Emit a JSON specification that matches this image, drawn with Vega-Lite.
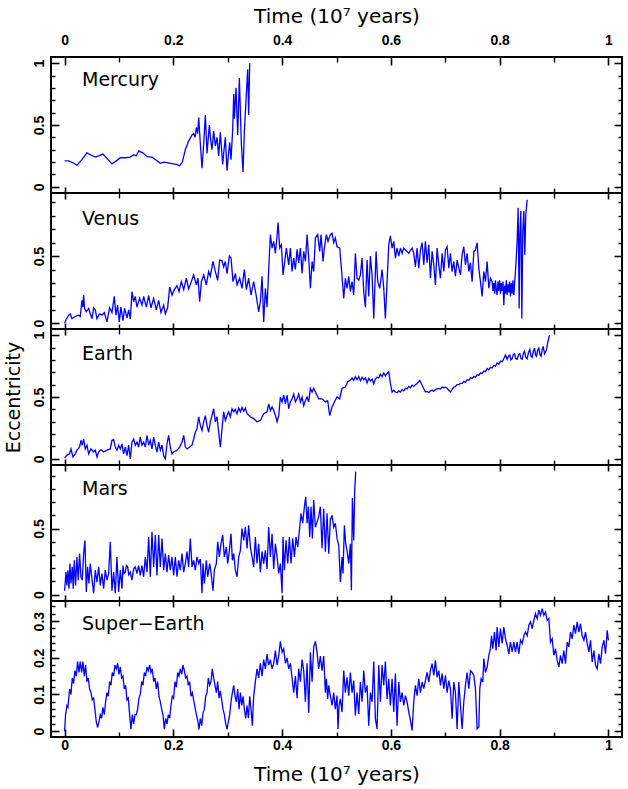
{
"$schema": "https://vega.github.io/schema/vega-lite/v6.json",
"background": "white",
"padding": {"left": 3, "top": 5, "right": 2, "bottom": 1},
"spacing": 0,
"bounds": "flush",
"config": {
 "view": {"stroke": "black", "strokeWidth": 2},
 "concat": {"spacing": 0},
 "axis": {"grid": false, "domain": false, "tickColor": "black", "labelColor": "black", "titleColor": "black",
  "labelFont": "Liberation Sans", "labelFontWeight": "bold", "labelFontSize": 14,
  "titleFont": "DejaVu Sans", "titleFontWeight": "normal", "titleFontSize": 19}
},
"datasets": {
"mercury": [
{"t":0,"e":0.21},{"t":0.0074,"e":0.21},{"t":0.0153,"e":0.195},{"t":0.0227,"e":0.175},{"t":0.0319,"e":0.22},{"t":0.0411,"e":0.275},{"t":0.0491,"e":0.255},{"t":0.0564,"e":0.24},{"t":0.0626,"e":0.25},{"t":0.0705,"e":0.265},{"t":0.0779,"e":0.23},{"t":0.0871,"e":0.185},{"t":0.0951,"e":0.21},{"t":0.1024,"e":0.235},{"t":0.1116,"e":0.235},{"t":0.1208,"e":0.24},{"t":0.127,"e":0.26},{"t":0.1319,"e":0.25},{"t":0.1362,"e":0.29},{"t":0.1435,"e":0.275},{"t":0.1515,"e":0.245},{"t":0.1607,"e":0.24},{"t":0.1687,"e":0.215},{"t":0.176,"e":0.19},{"t":0.1822,"e":0.2},{"t":0.1883,"e":0.195},{"t":0.1944,"e":0.19},{"t":0.2005,"e":0.185},{"t":0.2067,"e":0.18},{"t":0.2116,"e":0.17},{"t":0.2165,"e":0.2},{"t":0.222,"e":0.3},{"t":0.2281,"e":0.37},{"t":0.2343,"e":0.42},{"t":0.2373,"e":0.43},{"t":0.2398,"e":0.4},{"t":0.2423,"e":0.48},{"t":0.2447,"e":0.43},{"t":0.2466,"e":0.56},{"t":0.2496,"e":0.35},{"t":0.2527,"e":0.15},{"t":0.2558,"e":0.35},{"t":0.2588,"e":0.58},{"t":0.2619,"e":0.27},{"t":0.2643,"e":0.4},{"t":0.2662,"e":0.5},{"t":0.2686,"e":0.38},{"t":0.271,"e":0.3},{"t":0.2741,"e":0.45},{"t":0.2772,"e":0.33},{"t":0.2803,"e":0.4},{"t":0.2833,"e":0.25},{"t":0.2864,"e":0.44},{"t":0.2907,"e":0.18},{"t":0.2932,"e":0.3},{"t":0.2956,"e":0.4},{"t":0.2987,"e":0.13},{"t":0.3011,"e":0.25},{"t":0.3036,"e":0.36},{"t":0.306,"e":0.22},{"t":0.3091,"e":0.46},{"t":0.311,"e":0.75},{"t":0.3122,"e":0.55},{"t":0.3152,"e":0.8},{"t":0.3183,"e":0.42},{"t":0.3214,"e":0.88},{"t":0.325,"e":0.35},{"t":0.3281,"e":0.12},{"t":0.3306,"e":0.45},{"t":0.3336,"e":0.7},{"t":0.3367,"e":0.95},{"t":0.3385,"e":0.58},{"t":0.3404,"e":1.0}
],
"venus": [
{"t":0,"e":0},{"t":0.0031,"e":0.03},{"t":0.0074,"e":0.06},{"t":0.0104,"e":0.07},{"t":0.0135,"e":0.035},{"t":0.0196,"e":0.05},{"t":0.0258,"e":0.06},{"t":0.0288,"e":0.05},{"t":0.0319,"e":0.17},{"t":0.0337,"e":0.12},{"t":0.035,"e":0.21},{"t":0.0368,"e":0.11},{"t":0.0399,"e":0.085},{"t":0.0442,"e":0.11},{"t":0.0472,"e":0.07},{"t":0.0503,"e":0.035},{"t":0.0534,"e":0.115},{"t":0.0564,"e":0.1},{"t":0.0595,"e":0.035},{"t":0.0644,"e":0.07},{"t":0.0687,"e":0.06},{"t":0.073,"e":0.08},{"t":0.0779,"e":0.01},{"t":0.0828,"e":0.115},{"t":0.0871,"e":0.08},{"t":0.0914,"e":0.2},{"t":0.0944,"e":0.06},{"t":0.0975,"e":0.135},{"t":0.1006,"e":0.01},{"t":0.1036,"e":0.12},{"t":0.1073,"e":0.02},{"t":0.1104,"e":0.11},{"t":0.1147,"e":0.04},{"t":0.1178,"e":0.1},{"t":0.1208,"e":0.03},{"t":0.1239,"e":0.235},{"t":0.127,"e":0.16},{"t":0.13,"e":0.2},{"t":0.1331,"e":0.12},{"t":0.138,"e":0.185},{"t":0.1423,"e":0.135},{"t":0.1454,"e":0.2},{"t":0.1503,"e":0.12},{"t":0.1546,"e":0.205},{"t":0.1588,"e":0.115},{"t":0.1638,"e":0.185},{"t":0.1687,"e":0.1},{"t":0.173,"e":0.17},{"t":0.1772,"e":0.08},{"t":0.1822,"e":0.135},{"t":0.1852,"e":0.07},{"t":0.1895,"e":0.115},{"t":0.1932,"e":0.27},{"t":0.1975,"e":0.21},{"t":0.2018,"e":0.25},{"t":0.2067,"e":0.28},{"t":0.2104,"e":0.235},{"t":0.2147,"e":0.31},{"t":0.219,"e":0.25},{"t":0.2239,"e":0.335},{"t":0.2281,"e":0.255},{"t":0.2331,"e":0.31},{"t":0.2373,"e":0.36},{"t":0.2423,"e":0.285},{"t":0.2453,"e":0.335},{"t":0.2484,"e":0.16},{"t":0.2515,"e":0.31},{"t":0.2558,"e":0.36},{"t":0.2607,"e":0.285},{"t":0.2649,"e":0.385},{"t":0.268,"e":0.35},{"t":0.2729,"e":0.46},{"t":0.2772,"e":0.385},{"t":0.2815,"e":0.32},{"t":0.2852,"e":0.47},{"t":0.2895,"e":0.465},{"t":0.2925,"e":0.42},{"t":0.2956,"e":0.46},{"t":0.2987,"e":0.37},{"t":0.303,"e":0.5},{"t":0.306,"e":0.485},{"t":0.3097,"e":0.31},{"t":0.314,"e":0.37},{"t":0.3171,"e":0.285},{"t":0.322,"e":0.335},{"t":0.3263,"e":0.26},{"t":0.3306,"e":0.4},{"t":0.3342,"e":0.25},{"t":0.3385,"e":0.335},{"t":0.3428,"e":0.21},{"t":0.3477,"e":0.31},{"t":0.3526,"e":0.2},{"t":0.3569,"e":0.085},{"t":0.36,"e":0.16},{"t":0.3631,"e":0.35},{"t":0.3661,"e":0.01},{"t":0.3692,"e":0.26},{"t":0.3723,"e":0.12},{"t":0.3753,"e":0.4},{"t":0.3784,"e":0.66},{"t":0.3815,"e":0.56},{"t":0.3845,"e":0.61},{"t":0.3876,"e":0.52},{"t":0.3907,"e":0.65},{"t":0.3925,"e":0.75},{"t":0.3956,"e":0.56},{"t":0.3986,"e":0.585},{"t":0.4017,"e":0.36},{"t":0.4048,"e":0.46},{"t":0.4078,"e":0.56},{"t":0.4121,"e":0.435},{"t":0.4152,"e":0.56},{"t":0.4183,"e":0.385},{"t":0.4213,"e":0.485},{"t":0.4244,"e":0.4},{"t":0.4275,"e":0.55},{"t":0.4305,"e":0.45},{"t":0.4336,"e":0.56},{"t":0.4367,"e":0.37},{"t":0.4397,"e":0.535},{"t":0.4428,"e":0.46},{"t":0.4459,"e":0.66},{"t":0.4489,"e":0.485},{"t":0.452,"e":0.26},{"t":0.4551,"e":0.46},{"t":0.4581,"e":0.385},{"t":0.4612,"e":0.635},
{"t":0.4654,"e":0.66},{"t":0.4691,"e":0.535},{"t":0.4716,"e":0.66},{"t":0.4752,"e":0.46},{"t":0.4777,"e":0.56},{"t":0.4814,"e":0.66},{"t":0.4844,"e":0.61},{"t":0.4887,"e":0.66},{"t":0.4918,"e":0.67},{"t":0.4949,"e":0.6},{"t":0.4979,"e":0.635},{"t":0.501,"e":0.57},{"t":0.5059,"e":0.56},{"t":0.509,"e":0.41},{"t":0.5133,"e":0.185},{"t":0.5163,"e":0.335},{"t":0.5194,"e":0.26},{"t":0.5225,"e":0.35},{"t":0.5255,"e":0.235},{"t":0.5286,"e":0.31},{"t":0.5317,"e":0.21},{"t":0.5347,"e":0.52},{"t":0.5378,"e":0.335},{"t":0.5409,"e":0.32},{"t":0.5439,"e":0.36},{"t":0.547,"e":0.485},{"t":0.5501,"e":0.235},{"t":0.5531,"e":0.12},{"t":0.5562,"e":0.47},{"t":0.5593,"e":0.2},{"t":0.5623,"e":0.5},{"t":0.5654,"e":0.36},{"t":0.5685,"e":0.035},{"t":0.5728,"e":0.535},{"t":0.5758,"e":0.31},{"t":0.5795,"e":0.26},{"t":0.5838,"e":0.4},{"t":0.5869,"e":0.26},{"t":0.5899,"e":0.035},{"t":0.593,"e":0.31},{"t":0.5961,"e":0.585},{"t":0.5991,"e":0.65},{"t":0.6022,"e":0.56},{"t":0.6053,"e":0.61},{"t":0.6083,"e":0.485},{"t":0.6114,"e":0.56},{"t":0.6145,"e":0.5},{"t":0.6175,"e":0.56},{"t":0.6206,"e":0.52},{"t":0.6237,"e":0.56},{"t":0.6267,"e":0.545},{"t":0.6298,"e":0.535},{"t":0.6329,"e":0.52},{"t":0.6359,"e":0.545},{"t":0.639,"e":0.56},{"t":0.6421,"e":0.52},{"t":0.6451,"e":0.42},{"t":0.6482,"e":0.56},{"t":0.6513,"e":0.41},{"t":0.6543,"e":0.545},{"t":0.6574,"e":0.6},{"t":0.6605,"e":0.435},{"t":0.6635,"e":0.61},{"t":0.6666,"e":0.45},{"t":0.6697,"e":0.585},{"t":0.6727,"e":0.335},{"t":0.6758,"e":0.535},{"t":0.6789,"e":0.435},{"t":0.6819,"e":0.285},{"t":0.685,"e":0.56},{"t":0.6881,"e":0.435},{"t":0.6911,"e":0.335},{"t":0.6942,"e":0.52},{"t":0.6973,"e":0.385},{"t":0.7003,"e":0.545},{"t":0.7034,"e":0.57},{"t":0.7065,"e":0.41},{"t":0.7095,"e":0.52},{"t":0.7126,"e":0.385},{"t":0.7157,"e":0.46},{"t":0.7187,"e":0.35},{"t":0.7218,"e":0.47},{"t":0.7249,"e":0.41},{"t":0.7279,"e":0.36},{"t":0.731,"e":0.51},{"t":0.7341,"e":0.57},{"t":0.7371,"e":0.435},{"t":0.7402,"e":0.52},{"t":0.7433,"e":0.385},{"t":0.7463,"e":0.45},{"t":0.7494,"e":0.31},{"t":0.7525,"e":0.535},{"t":0.7555,"e":0.545},{"t":0.7586,"e":0.6},{"t":0.7617,"e":0.41},{"t":0.7647,"e":0.31},{"t":0.7678,"e":0.2},{"t":0.7709,"e":0.385},{"t":0.7739,"e":0.31},{"t":0.777,"e":0.46},{"t":0.7801,"e":0.26},{"t":0.7831,"e":0.335},{"t":0.7862,"e":0.31},{"t":0.7877,"e":0.24},{"t":0.7893,"e":0.3},{"t":0.7908,"e":0.22},{"t":0.7923,"e":0.32},{"t":0.7939,"e":0.25},{"t":0.7954,"e":0.21},{"t":0.797,"e":0.31},{"t":0.7985,"e":0.24},{"t":0.8,"e":0.32},{"t":0.8015,"e":0.22},{"t":0.8031,"e":0.3},{"t":0.8046,"e":0.24},{"t":0.8061,"e":0.31},{"t":0.8077,"e":0.135},{"t":0.8092,"e":0.28},{"t":0.8107,"e":0.22},{"t":0.8123,"e":0.32},{"t":0.8138,"e":0.21},{"t":0.8153,"e":0.29},{"t":0.8169,"e":0.23},{"t":0.8184,"e":0.31},{"t":0.8199,"e":0.2},{"t":0.8215,"e":0.3},{"t":0.823,"e":0.22},{"t":0.8245,"e":0.32},{"t":0.8261,"e":0.21},{"t":0.8276,"e":0.3},{"t":0.8291,"e":0.385},{"t":0.8322,"e":0.61},{"t":0.834,"e":0.86},{"t":0.8359,"e":0.11},{"t":0.8371,"e":0.66},{"t":0.839,"e":0.835},{"t":0.8408,"e":0.035},{"t":0.8426,"e":0.685},{"t":0.8445,"e":0.835},{"t":0.8463,"e":0.51},{"t":0.8481,"e":0.81},{"t":0.8506,"e":0.92}
],
"earth": [
{"t":0,"e":0.005},{"t":0.0043,"e":0.03},{"t":0.0092,"e":0.04},{"t":0.0117,"e":0.08},{"t":0.0153,"e":0.015},{"t":0.0196,"e":0.04},{"t":0.0227,"e":0.07},{"t":0.0276,"e":0.095},{"t":0.0301,"e":0.15},{"t":0.0325,"e":0.11},{"t":0.035,"e":0.16},{"t":0.038,"e":0.08},{"t":0.0411,"e":0.11},{"t":0.0442,"e":0.04},{"t":0.0485,"e":0.08},{"t":0.0534,"e":0.055},{"t":0.0564,"e":0.07},{"t":0.0595,"e":0.015},{"t":0.0626,"e":0.055},{"t":0.0668,"e":0.075},{"t":0.0718,"e":0.055},{"t":0.0779,"e":0.07},{"t":0.084,"e":0.08},{"t":0.0871,"e":0.15},{"t":0.0902,"e":0.155},{"t":0.0932,"e":0.095},{"t":0.0963,"e":0.07},{"t":0.0994,"e":0.11},{"t":0.1024,"e":0.08},{"t":0.1055,"e":0.12},{"t":0.1086,"e":0.04},{"t":0.1116,"e":0.095},{"t":0.1147,"e":0.025},{"t":0.1178,"e":0.11},{"t":0.1208,"e":0.0},{"t":0.1239,"e":0.135},{"t":0.127,"e":0.16},{"t":0.13,"e":0.11},{"t":0.1331,"e":0.135},{"t":0.1362,"e":0.095},{"t":0.1392,"e":0.175},{"t":0.1423,"e":0.11},{"t":0.1454,"e":0.135},{"t":0.1484,"e":0.095},{"t":0.1515,"e":0.19},{"t":0.1546,"e":0.11},{"t":0.1576,"e":0.15},{"t":0.1607,"e":0.08},{"t":0.1638,"e":0.175},{"t":0.1668,"e":0.11},{"t":0.1699,"e":0.055},{"t":0.173,"e":0.135},{"t":0.176,"e":0.07},{"t":0.1791,"e":0.11},{"t":0.1822,"e":0.025},{"t":0.1852,"e":0.0},{"t":0.1883,"e":0.12},{"t":0.1913,"e":0.19},{"t":0.1944,"e":0.095},{"t":0.1975,"e":0.04},{"t":0.2005,"e":0.055},{"t":0.2067,"e":0.07},{"t":0.2116,"e":0.095},{"t":0.2159,"e":0.135},{"t":0.219,"e":0.19},{"t":0.222,"e":0.095},{"t":0.2251,"e":0.08},{"t":0.23,"e":0.095},{"t":0.2343,"e":0.11},{"t":0.2373,"e":0.16},{"t":0.2404,"e":0.215},{"t":0.2435,"e":0.245},{"t":0.2466,"e":0.34},{"t":0.2496,"e":0.27},{"t":0.2527,"e":0.23},{"t":0.2558,"e":0.3},{"t":0.2588,"e":0.35},{"t":0.2619,"e":0.27},{"t":0.2649,"e":0.215},{"t":0.268,"e":0.3},{"t":0.271,"e":0.35},{"t":0.2741,"e":0.405},{"t":0.2772,"e":0.3},{"t":0.2803,"e":0.34},{"t":0.2833,"e":0.215},{"t":0.2864,"e":0.095},{"t":0.2895,"e":0.245},{"t":0.2925,"e":0.38},{"t":0.2956,"e":0.31},{"t":0.2987,"e":0.35},{"t":0.3017,"e":0.38},{"t":0.3048,"e":0.34},{"t":0.3079,"e":0.405},{"t":0.311,"e":0.38},{"t":0.314,"e":0.4},{"t":0.3171,"e":0.365},{"t":0.3202,"e":0.41},{"t":0.3233,"e":0.38},{"t":0.3263,"e":0.415},{"t":0.3294,"e":0.385},{"t":0.3324,"e":0.41},{"t":0.3355,"e":0.365},{"t":0.3416,"e":0.34},{"t":0.3477,"e":0.325},{"t":0.3539,"e":0.3},{"t":0.36,"e":0.31},{"t":0.3661,"e":0.365},{"t":0.3723,"e":0.38},{"t":0.3753,"e":0.445},{"t":0.3784,"e":0.39},{"t":0.3815,"e":0.42},{"t":0.3845,"e":0.39},{"t":0.3876,"e":0.35},{"t":0.3907,"e":0.3},{"t":0.3937,"e":0.35},{"t":0.3968,"e":0.5},{"t":0.3999,"e":0.46},{"t":0.4029,"e":0.515},{"t":0.406,"e":0.445},{"t":0.4091,"e":0.515},{"t":0.4121,"e":0.405},{"t":0.4152,"e":0.46},{"t":0.4183,"e":0.485},{"t":0.4213,"e":0.525},{"t":0.4244,"e":0.46},{"t":0.4275,"e":0.485},{"t":0.4305,"e":0.525},{"t":0.4336,"e":0.46},{"t":0.4367,"e":0.5},{"t":0.4397,"e":0.43},{"t":0.4428,"e":0.47},{"t":0.4459,"e":0.5},{"t":0.4489,"e":0.46},{"t":0.452,"e":0.57},{"t":0.4551,"e":0.54},{"t":0.4581,"e":0.57},{"t":0.463,"e":0.525},
{"t":0.4673,"e":0.485},{"t":0.4734,"e":0.485},{"t":0.4795,"e":0.46},{"t":0.4838,"e":0.47},{"t":0.4875,"e":0.35},{"t":0.4918,"e":0.42},{"t":0.4961,"e":0.46},{"t":0.501,"e":0.5},{"t":0.5059,"e":0.485},{"t":0.5102,"e":0.57},{"t":0.5163,"e":0.58},{"t":0.5206,"e":0.625},{"t":0.5255,"e":0.635},{"t":0.5286,"e":0.655},{"t":0.5317,"e":0.635},{"t":0.5347,"e":0.665},{"t":0.5378,"e":0.64},{"t":0.5409,"e":0.665},{"t":0.5439,"e":0.63},{"t":0.547,"e":0.66},{"t":0.5501,"e":0.64},{"t":0.5531,"e":0.655},{"t":0.5562,"e":0.615},{"t":0.5593,"e":0.65},{"t":0.5623,"e":0.63},{"t":0.5654,"e":0.645},{"t":0.5685,"e":0.605},{"t":0.5715,"e":0.645},{"t":0.5746,"e":0.66},{"t":0.5777,"e":0.655},{"t":0.5807,"e":0.685},{"t":0.5838,"e":0.665},{"t":0.5869,"e":0.695},{"t":0.59,"e":0.67},{"t":0.593,"e":0.69},{"t":0.5961,"e":0.705},{"t":0.5991,"e":0.61},{"t":0.6022,"e":0.54},{"t":0.6053,"e":0.555},{"t":0.6083,"e":0.54},{"t":0.6114,"e":0.535},{"t":0.6145,"e":0.55},{"t":0.6175,"e":0.54},{"t":0.6206,"e":0.56},{"t":0.6237,"e":0.55},{"t":0.6267,"e":0.57},{"t":0.6298,"e":0.565},{"t":0.6329,"e":0.585},{"t":0.6359,"e":0.575},{"t":0.639,"e":0.595},{"t":0.6421,"e":0.585},{"t":0.6451,"e":0.6},{"t":0.6482,"e":0.61},{"t":0.6531,"e":0.635},{"t":0.6574,"e":0.595},{"t":0.6635,"e":0.54},{"t":0.6666,"e":0.545},{"t":0.6697,"e":0.535},{"t":0.6727,"e":0.55},{"t":0.6758,"e":0.555},{"t":0.6789,"e":0.545},{"t":0.6819,"e":0.56},{"t":0.685,"e":0.565},{"t":0.6881,"e":0.57},{"t":0.6911,"e":0.565},{"t":0.6942,"e":0.58},{"t":0.6973,"e":0.575},{"t":0.7003,"e":0.58},{"t":0.7034,"e":0.57},{"t":0.7065,"e":0.555},{"t":0.7095,"e":0.54},{"t":0.7126,"e":0.56},{"t":0.7157,"e":0.58},{"t":0.7187,"e":0.585},{"t":0.7218,"e":0.6},{"t":0.7249,"e":0.6},{"t":0.7279,"e":0.61},{"t":0.731,"e":0.61},{"t":0.7341,"e":0.625},{"t":0.7371,"e":0.62},{"t":0.7402,"e":0.64},{"t":0.7433,"e":0.635},{"t":0.7463,"e":0.655},{"t":0.7494,"e":0.65},{"t":0.7525,"e":0.665},{"t":0.7555,"e":0.66},{"t":0.7586,"e":0.68},{"t":0.7617,"e":0.675},{"t":0.7647,"e":0.695},{"t":0.7678,"e":0.69},{"t":0.7709,"e":0.71},{"t":0.7739,"e":0.705},{"t":0.777,"e":0.73},{"t":0.78,"e":0.72},{"t":0.7831,"e":0.74},{"t":0.7862,"e":0.735},{"t":0.7893,"e":0.755},{"t":0.7923,"e":0.75},{"t":0.7954,"e":0.775},{"t":0.7985,"e":0.765},{"t":0.8015,"e":0.79},{"t":0.8046,"e":0.785},{"t":0.8077,"e":0.81},{"t":0.8107,"e":0.84},{"t":0.8138,"e":0.805},{"t":0.8162,"e":0.83},{"t":0.8187,"e":0.84},{"t":0.8208,"e":0.8},{"t":0.823,"e":0.81},{"t":0.8252,"e":0.845},{"t":0.8273,"e":0.85},{"t":0.8297,"e":0.81},{"t":0.8322,"e":0.805},{"t":0.8347,"e":0.845},{"t":0.8371,"e":0.85},{"t":0.8393,"e":0.81},{"t":0.8414,"e":0.805},{"t":0.8435,"e":0.85},{"t":0.8457,"e":0.87},{"t":0.848,"e":0.82},{"t":0.8506,"e":0.81},{"t":0.853,"e":0.86},{"t":0.8555,"e":0.885},{"t":0.8577,"e":0.83},{"t":0.8598,"e":0.82},{"t":0.862,"e":0.87},{"t":0.8641,"e":0.895},{"t":0.866,"e":0.84},{"t":0.8678,"e":0.83},{"t":0.87,"e":0.88},{"t":0.8721,"e":0.895},{"t":0.8742,"e":0.84},{"t":0.8763,"e":0.83},{"t":0.878,"e":0.88},{"t":0.88,"e":0.91},{"t":0.8825,"e":0.85},{"t":0.8861,"e":0.88},{"t":0.8886,"e":0.945},{"t":0.8917,"e":1.0}
],
"mars": [
{"t":0,"e":0.03},{"t":0.0025,"e":0.17},{"t":0.0043,"e":0.07},{"t":0.0061,"e":0.185},{"t":0.008,"e":0.045},{"t":0.0098,"e":0.235},{"t":0.0117,"e":0.085},{"t":0.0141,"e":0.21},{"t":0.0159,"e":0.045},{"t":0.0178,"e":0.26},{"t":0.0202,"e":0.07},{"t":0.0227,"e":0.285},{"t":0.0251,"e":0.11},{"t":0.0276,"e":0.31},{"t":0.0301,"e":0.135},{"t":0.0325,"e":0.11},{"t":0.035,"e":0.31},{"t":0.0374,"e":0.41},{"t":0.0399,"e":0.02},{"t":0.0423,"e":0.21},{"t":0.0448,"e":0.085},{"t":0.0472,"e":0.235},{"t":0.0503,"e":0.12},{"t":0.0534,"e":0.01},{"t":0.0564,"e":0.185},{"t":0.0595,"e":0.095},{"t":0.0626,"e":0.21},{"t":0.0656,"e":0.07},{"t":0.0687,"e":0.16},{"t":0.0718,"e":0.045},{"t":0.0748,"e":0.185},{"t":0.0779,"e":0.11},{"t":0.081,"e":0.16},{"t":0.084,"e":0.4},{"t":0.0871,"e":0.03},{"t":0.0902,"e":0.17},{"t":0.0932,"e":0.01},{"t":0.0963,"e":0.285},{"t":0.0994,"e":0.02},{"t":0.1024,"e":0.185},{"t":0.1055,"e":0.045},{"t":0.1073,"e":0.22},{"t":0.1094,"e":0.16},{"t":0.1116,"e":0.17},{"t":0.1137,"e":0.22},{"t":0.1159,"e":0.21},{"t":0.118,"e":0.15},{"t":0.1208,"e":0.17},{"t":0.1239,"e":0.11},{"t":0.127,"e":0.195},{"t":0.13,"e":0.21},{"t":0.1331,"e":0.16},{"t":0.1362,"e":0.22},{"t":0.1392,"e":0.145},{"t":0.1423,"e":0.22},{"t":0.1454,"e":0.135},{"t":0.1484,"e":0.285},{"t":0.1515,"e":0.17},{"t":0.1546,"e":0.435},{"t":0.1576,"e":0.135},{"t":0.1607,"e":0.475},{"t":0.1638,"e":0.21},{"t":0.1668,"e":0.45},{"t":0.1699,"e":0.145},{"t":0.173,"e":0.45},{"t":0.176,"e":0.21},{"t":0.1791,"e":0.425},{"t":0.1822,"e":0.185},{"t":0.1852,"e":0.31},{"t":0.1883,"e":0.17},{"t":0.1913,"e":0.3},{"t":0.1944,"e":0.185},{"t":0.1975,"e":0.285},{"t":0.2005,"e":0.145},{"t":0.2036,"e":0.285},{"t":0.2067,"e":0.135},{"t":0.2097,"e":0.26},{"t":0.2128,"e":0.185},{"t":0.2159,"e":0.31},{"t":0.219,"e":0.17},{"t":0.222,"e":0.235},{"t":0.2251,"e":0.325},{"t":0.2281,"e":0.21},{"t":0.2312,"e":0.425},{"t":0.2343,"e":0.21},{"t":0.2373,"e":0.26},{"t":0.2404,"e":0.185},{"t":0.2435,"e":0.285},{"t":0.2466,"e":0.235},{"t":0.2496,"e":0.27},{"t":0.2527,"e":0.01},{"t":0.2545,"e":0.235},{"t":0.257,"e":0.085},{"t":0.2607,"e":0.26},{"t":0.2631,"e":0.135},{"t":0.2668,"e":0.235},{"t":0.2692,"e":0.17},{"t":0.2729,"e":0.03},{"t":0.2754,"e":0.185},{"t":0.2791,"e":0.235},{"t":0.2815,"e":0.4},{"t":0.2846,"e":0.285},{"t":0.2876,"e":0.385},{"t":0.2907,"e":0.45},{"t":0.2938,"e":0.285},{"t":0.2974,"e":0.36},{"t":0.2999,"e":0.235},{"t":0.303,"e":0.335},{"t":0.306,"e":0.46},{"t":0.3085,"e":0.26},{"t":0.311,"e":0.31},{"t":0.314,"e":0.185},{"t":0.3171,"e":0.135},{"t":0.3202,"e":0.285},{"t":0.3233,"e":0.335},{"t":0.3263,"e":0.5},{"t":0.3294,"e":0.41},{"t":0.3324,"e":0.51},{"t":0.3355,"e":0.35},{"t":0.3385,"e":0.525},{"t":0.3416,"e":0.36},{"t":0.3447,"e":0.285},{"t":0.3477,"e":0.21},{"t":0.3508,"e":0.435},{"t":0.3539,"e":0.235},{"t":0.3569,"e":0.385},{"t":0.36,"e":0.17},{"t":0.3631,"e":0.325},{"t":0.3661,"e":0.235},{"t":0.3692,"e":0.335},{"t":0.3723,"e":0.195},{"t":0.3753,"e":0.51},{"t":0.3784,"e":0.285},{"t":0.3815,"e":0.46},{"t":0.3845,"e":0.195},{"t":0.3876,"e":0.385},{"t":0.3907,"e":0.285},{"t":0.3937,"e":0.16},{"t":0.3968,"e":0.235},{"t":0.3999,"e":0.01},{"t":0.4017,"e":0.435},{"t":0.4042,"e":0.185},{"t":0.4072,"e":0.41},{"t":0.4103,"e":0.235},{"t":0.4134,"e":0.435},{"t":0.4164,"e":0.235},{"t":0.4195,"e":0.425},{"t":0.4226,"e":0.285},{"t":0.4256,"e":0.435},{"t":0.4287,"e":0.36},{"t":0.4318,"e":0.485},{"t":0.4348,"e":0.615},{"t":0.4379,"e":0.54},{"t":0.441,"e":0.665},{"t":0.4434,"e":0.74},{"t":0.4459,"e":0.54},{"t":0.4483,"e":0.665},{"t":0.4508,"e":0.435},{"t":0.4532,"e":0.665},{"t":0.4557,"e":0.425},{"t":0.4581,"e":0.715},{"t":0.4612,"e":0.51},
{"t":0.4673,"e":0.59},{"t":0.4703,"e":0.665},{"t":0.4734,"e":0.35},{"t":0.4765,"e":0.65},{"t":0.4795,"e":0.325},{"t":0.4826,"e":0.615},{"t":0.4857,"e":0.31},{"t":0.4887,"e":0.565},{"t":0.4918,"e":0.6},{"t":0.4949,"e":0.51},{"t":0.4979,"e":0.54},{"t":0.501,"e":0.425},{"t":0.5041,"e":0.375},{"t":0.5071,"e":0.095},{"t":0.5102,"e":0.285},{"t":0.512,"e":0.16},{"t":0.5145,"e":0.525},{"t":0.5169,"e":0.385},{"t":0.5194,"e":0.335},{"t":0.5225,"e":0.235},{"t":0.5255,"e":0.385},{"t":0.5274,"e":0.033},{"t":0.5292,"e":0.73},{"t":0.5317,"e":0.41},{"t":0.5335,"e":0.79},{"t":0.5353,"e":0.93}
],
"superearth": [
{"t":0,"e":0},{"t":0.0018,"e":0.045},{"t":0.0043,"e":0.07},{"t":0.0061,"e":0.065},{"t":0.0092,"e":0.115},{"t":0.0117,"e":0.1},{"t":0.0141,"e":0.145},{"t":0.0166,"e":0.13},{"t":0.019,"e":0.165},{"t":0.0215,"e":0.15},{"t":0.0239,"e":0.19},{"t":0.0264,"e":0.16},{"t":0.0288,"e":0.19},{"t":0.0313,"e":0.16},{"t":0.0337,"e":0.19},{"t":0.0362,"e":0.15},{"t":0.0386,"e":0.18},{"t":0.0411,"e":0.135},{"t":0.0435,"e":0.145},{"t":0.046,"e":0.115},{"t":0.0485,"e":0.105},{"t":0.0509,"e":0.085},{"t":0.0534,"e":0.09},{"t":0.0558,"e":0.06},{"t":0.0583,"e":0.025},{"t":0.0607,"e":0.01},{"t":0.0632,"e":0.025},{"t":0.0656,"e":0.045},{"t":0.0681,"e":0.035},{"t":0.0705,"e":0.065},{"t":0.073,"e":0.045},{"t":0.0754,"e":0.08},{"t":0.0779,"e":0.105},{"t":0.0803,"e":0.095},{"t":0.0828,"e":0.135},{"t":0.0852,"e":0.125},{"t":0.0877,"e":0.16},{"t":0.0902,"e":0.15},{"t":0.0926,"e":0.18},{"t":0.0951,"e":0.17},{"t":0.0975,"e":0.185},{"t":0.1,"e":0.155},{"t":0.1024,"e":0.175},{"t":0.1049,"e":0.145},{"t":0.1073,"e":0.15},{"t":0.1098,"e":0.115},{"t":0.1122,"e":0.125},{"t":0.1147,"e":0.085},{"t":0.1171,"e":0.09},{"t":0.1196,"e":0.045},{"t":0.122,"e":0.005},{"t":0.1245,"e":0.045},{"t":0.127,"e":0.02},{"t":0.1294,"e":0.045},{"t":0.1319,"e":0.045},{"t":0.1343,"e":0.06},{"t":0.1368,"e":0.09},{"t":0.1392,"e":0.1},{"t":0.1417,"e":0.135},{"t":0.1441,"e":0.125},{"t":0.1466,"e":0.16},{"t":0.149,"e":0.15},{"t":0.1515,"e":0.175},{"t":0.1539,"e":0.165},{"t":0.1564,"e":0.18},{"t":0.1588,"e":0.16},{"t":0.1613,"e":0.17},{"t":0.1638,"e":0.135},{"t":0.1662,"e":0.145},{"t":0.1687,"e":0.115},{"t":0.1711,"e":0.135},{"t":0.1736,"e":0.095},{"t":0.176,"e":0.08},{"t":0.1785,"e":0.06},{"t":0.1809,"e":0.045},{"t":0.1834,"e":0.005},{"t":0.1858,"e":0.035},{"t":0.1883,"e":0.02},{"t":0.1907,"e":0.045},{"t":0.1932,"e":0.035},{"t":0.1956,"e":0.07},{"t":0.1981,"e":0.095},{"t":0.2005,"e":0.09},{"t":0.203,"e":0.135},{"t":0.2055,"e":0.12},{"t":0.2079,"e":0.16},{"t":0.2104,"e":0.15},{"t":0.2128,"e":0.17},{"t":0.2153,"e":0.155},{"t":0.2177,"e":0.18},{"t":0.2202,"e":0.165},{"t":0.2226,"e":0.145},{"t":0.2251,"e":0.15},{"t":0.2275,"e":0.125},{"t":0.23,"e":0.135},{"t":0.2324,"e":0.095},{"t":0.2349,"e":0.105},{"t":0.2373,"e":0.085},{"t":0.2398,"e":0.065},{"t":0.2423,"e":0.045},{"t":0.2447,"e":0.03},{"t":0.2472,"e":0.005},{"t":0.2496,"e":0.035},{"t":0.2521,"e":0.015},{"t":0.2545,"e":0.05},{"t":0.257,"e":0.06},{"t":0.2594,"e":0.095},{"t":0.2619,"e":0.105},{"t":0.2643,"e":0.145},{"t":0.2668,"e":0.125},{"t":0.2692,"e":0.135},{"t":0.2717,"e":0.17},{"t":0.2741,"e":0.145},{"t":0.2766,"e":0.125},{"t":0.2791,"e":0.105},{"t":0.2815,"e":0.135},{"t":0.284,"e":0.09},{"t":0.2864,"e":0.11},{"t":0.2889,"e":0.085},{"t":0.2913,"e":0.06},{"t":0.2938,"e":0.045},{"t":0.2962,"e":0.02},{"t":0.2987,"e":0.005},{"t":0.3011,"e":0.025},{"t":0.3036,"e":0.045},{"t":0.306,"e":0.08},{"t":0.3085,"e":0.105},{"t":0.311,"e":0.125},{"t":0.3134,"e":0.095},{"t":0.3159,"e":0.08},{"t":0.3183,"e":0.115},{"t":0.3208,"e":0.06},{"t":0.3233,"e":0.105},{"t":0.3257,"e":0.07},{"t":0.3282,"e":0.095},{"t":0.3306,"e":0.06},{"t":0.3331,"e":0.035},{"t":0.3355,"e":0.07},{"t":0.338,"e":0.035},{"t":0.3404,"e":0.095},{"t":0.3428,"e":0.06},{"t":0.3453,"e":0.015},{"t":0.3477,"e":0.095},{"t":0.3508,"e":0.135},{"t":0.3539,"e":0.17},{"t":0.3569,"e":0.145},{"t":0.36,"e":0.185},{"t":0.3631,"e":0.15},{"t":0.3661,"e":0.195},{"t":0.3692,"e":0.17},{"t":0.3723,"e":0.21},{"t":0.3753,"e":0.18},{"t":0.3784,"e":0.195},{"t":0.3815,"e":0.17},{"t":0.3845,"e":0.185},{"t":0.3876,"e":0.22},{"t":0.3907,"e":0.18},{"t":0.3937,"e":0.205},{"t":0.3968,"e":0.245},{"t":0.3999,"e":0.215},{"t":0.4029,"e":0.225},{"t":0.406,"e":0.185},{"t":0.4091,"e":0.2},{"t":0.4121,"e":0.17},{"t":0.4152,"e":0.185},{"t":0.4183,"e":0.145},{"t":0.4213,"e":0.105},{"t":0.4244,"e":0.15},{"t":0.4275,"e":0.09},{"t":0.4305,"e":0.17},{"t":0.4336,"e":0.135},{"t":0.4367,"e":0.195},{"t":0.4397,"e":0.165},{"t":0.4428,"e":0.08},{"t":0.4459,"e":0.185},{"t":0.4489,"e":0.05},{"t":0.452,"e":0.215},{"t":0.4551,"e":0.135},{"t":0.4581,"e":0.23},{"t":0.4612,"e":0.245},
{"t":0.4642,"e":0.215},{"t":0.4673,"e":0.17},{"t":0.4703,"e":0.205},{"t":0.4734,"e":0.165},{"t":0.4765,"e":0.205},{"t":0.4795,"e":0.105},{"t":0.4814,"e":0.143},{"t":0.4838,"e":0.088},{"t":0.4857,"e":0.125},{"t":0.4887,"e":0.097},{"t":0.4918,"e":0.07},{"t":0.4949,"e":0.105},{"t":0.4979,"e":0.06},{"t":0.501,"e":0.097},{"t":0.5028,"e":0.006},{"t":0.5047,"e":0.07},{"t":0.5071,"e":0.088},{"t":0.5102,"e":0.052},{"t":0.5133,"e":0.165},{"t":0.5163,"e":0.105},{"t":0.5194,"e":0.147},{"t":0.5225,"e":0.097},{"t":0.5255,"e":0.16},{"t":0.5286,"e":0.105},{"t":0.5317,"e":0.138},{"t":0.5347,"e":0.043},{"t":0.5378,"e":0.105},{"t":0.5409,"e":0.047},{"t":0.5439,"e":0.134},{"t":0.547,"e":0.08},{"t":0.5501,"e":0.165},{"t":0.5531,"e":0.105},{"t":0.5562,"e":0.125},{"t":0.5593,"e":0.015},{"t":0.5623,"e":0.105},{"t":0.5654,"e":0.08},{"t":0.5685,"e":0.19},{"t":0.5715,"e":0.034},{"t":0.5746,"e":0.006},{"t":0.5777,"e":0.18},{"t":0.5807,"e":0.08},{"t":0.5838,"e":0.18},{"t":0.5869,"e":0.125},{"t":0.5899,"e":0.19},{"t":0.593,"e":0.088},{"t":0.5961,"e":0.143},{"t":0.5991,"e":0.07},{"t":0.6022,"e":0.143},{"t":0.6053,"e":0.052},{"t":0.6083,"e":0.157},{"t":0.6114,"e":0.015},{"t":0.6145,"e":0.134},{"t":0.6175,"e":0.08},{"t":0.6206,"e":0.105},{"t":0.6237,"e":0.07},{"t":0.6267,"e":0.097},{"t":0.6298,"e":0.08},{"t":0.6329,"e":0.052},{"t":0.6359,"e":0.03},{"t":0.639,"e":0.002},{"t":0.6421,"e":0.08},{"t":0.6451,"e":0.125},{"t":0.6482,"e":0.097},{"t":0.6513,"e":0.143},{"t":0.6543,"e":0.105},{"t":0.6574,"e":0.134},{"t":0.6605,"e":0.116},{"t":0.6635,"e":0.138},{"t":0.6666,"e":0.16},{"t":0.6697,"e":0.134},{"t":0.6727,"e":0.165},{"t":0.6758,"e":0.184},{"t":0.6789,"e":0.152},{"t":0.6819,"e":0.193},{"t":0.685,"e":0.147},{"t":0.6881,"e":0.165},{"t":0.6911,"e":0.125},{"t":0.6942,"e":0.157},{"t":0.6973,"e":0.116},{"t":0.7003,"e":0.152},{"t":0.7034,"e":0.105},{"t":0.7065,"e":0.138},{"t":0.7095,"e":0.116},{"t":0.7126,"e":0.034},{"t":0.7157,"e":0.134},{"t":0.7187,"e":0.105},{"t":0.7218,"e":0.006},{"t":0.7249,"e":0.134},{"t":0.7279,"e":0.07},{"t":0.731,"e":0.006},{"t":0.7341,"e":0.08},{"t":0.7371,"e":0.125},{"t":0.7402,"e":0.16},{"t":0.7433,"e":0.116},{"t":0.7463,"e":0.165},{"t":0.7494,"e":0.16},{"t":0.7525,"e":0.152},{"t":0.7555,"e":0.116},{"t":0.7586,"e":0.006},{"t":0.7617,"e":0.011},{"t":0.7635,"e":0.116},{"t":0.766,"e":0.143},{"t":0.769,"e":0.134},{"t":0.7709,"e":0.198},{"t":0.7739,"e":0.16},{"t":0.777,"e":0.175},{"t":0.7801,"e":0.207},{"t":0.7831,"e":0.225},{"t":0.785,"e":0.26},{"t":0.7874,"e":0.225},{"t":0.7905,"e":0.27},{"t":0.7935,"e":0.22},{"t":0.7954,"e":0.284},{"t":0.7985,"e":0.23},{"t":0.8015,"e":0.28},{"t":0.8046,"e":0.239},{"t":0.8077,"e":0.284},{"t":0.8107,"e":0.252},{"t":0.8138,"e":0.234},{"t":0.8169,"e":0.211},{"t":0.8199,"e":0.243},{"t":0.823,"e":0.216},{"t":0.8261,"e":0.243},{"t":0.8291,"e":0.216},{"t":0.8322,"e":0.243},{"t":0.8353,"e":0.211},{"t":0.8383,"e":0.248},{"t":0.8414,"e":0.239},{"t":0.8445,"e":0.26},{"t":0.8475,"e":0.27},{"t":0.8506,"e":0.26},{"t":0.8537,"e":0.289},{"t":0.8567,"e":0.298},{"t":0.8598,"e":0.28},{"t":0.8629,"e":0.302},{"t":0.8659,"e":0.32},{"t":0.869,"e":0.307},{"t":0.8721,"e":0.33},{"t":0.8751,"e":0.316},{"t":0.8782,"e":0.334},{"t":0.8813,"e":0.316},{"t":0.8843,"e":0.325},{"t":0.8874,"e":0.302},{"t":0.8905,"e":0.307},{"t":0.8935,"e":0.243},{"t":0.8966,"e":0.252},{"t":0.8997,"e":0.207},{"t":0.9027,"e":0.225},{"t":0.9058,"e":0.193},{"t":0.9089,"e":0.175},{"t":0.9119,"e":0.207},{"t":0.915,"e":0.184},{"t":0.9181,"e":0.22},{"t":0.9211,"e":0.184},{"t":0.9242,"e":0.243},{"t":0.9273,"e":0.23},{"t":0.9303,"e":0.27},{"t":0.9334,"e":0.252},{"t":0.9365,"e":0.289},{"t":0.9395,"e":0.266},{"t":0.9426,"e":0.298},{"t":0.9457,"e":0.27},{"t":0.9487,"e":0.293},{"t":0.9518,"e":0.26},{"t":0.9549,"e":0.248},{"t":0.9579,"e":0.27},{"t":0.961,"e":0.239},{"t":0.9641,"e":0.216},{"t":0.9671,"e":0.248},{"t":0.9702,"e":0.189},{"t":0.9733,"e":0.22},{"t":0.9763,"e":0.18},{"t":0.9794,"e":0.17},{"t":0.9825,"e":0.211},{"t":0.9855,"e":0.184},{"t":0.9886,"e":0.23},{"t":0.9917,"e":0.248},{"t":0.9947,"e":0.211},{"t":0.9978,"e":0.275},{"t":1.0,"e":0.248}
]
},
"vconcat": [
{
 "width": 571, "height": 136, "data": {"name": "mercury"},
 "layer": [
  {"mark": {"type": "line", "color": "#0000ff", "strokeWidth": 1.3},
   "encoding": {
    "x": {"field": "t", "type": "quantitative", "scale": {"domain": [-0.025, 1.025], "nice": false, "zero": false},
          "axis": {"orient": "top", "values": [0, 0.2, 0.4, 0.6, 0.8, 1], "format": "~g", "tickSize": -8, "tickWidth": 1.6, "labelPadding": 18, "title": "Time (10⁷ years)", "titleFontSize": 20, "titlePadding": 7}},
    "y": {"field": "e", "type": "quantitative", "scale": {"domain": [-0.05, 1.05], "nice": false, "zero": false},
          "axis": {"orient": "left", "values": [0, 0.5, 1], "format": "~g", "tickSize": -8, "tickWidth": 1.6, "labelAngle": 270, "labelAlign": "center", "labelBaseline": "middle", "labelPadding": 20, "title": null}}
   }},
  {"data": {"values": [{"t": 0, "e": 0}]}, "mark": {"type": "point", "opacity": 0},
   "encoding": {
    "x": {"field": "t", "type": "quantitative", "axis": {"orient": "bottom", "values": [0, 0.2, 0.4, 0.6, 0.8, 1], "tickSize": -6, "tickWidth": 1.6, "labels": false, "title": null}},
    "y": {"field": "e", "type": "quantitative", "axis": {"orient": "right", "values": [0, 0.5, 1], "tickSize": -8, "tickWidth": 1.6, "labels": false, "title": null}}
   }},
  {"data": {"values": [{"t": 0, "e": 0}]}, "mark": {"type": "point", "opacity": 0},
   "encoding": {
    "x": {"field": "t", "type": "quantitative", "axis": {"orient": "top", "values": [0.1, 0.3, 0.5, 0.7, 0.9], "tickSize": -5, "tickWidth": 1.4, "labels": false, "title": null}},
    "y": {"field": "e", "type": "quantitative", "axis": {"orient": "left", "values": [0.1, 0.2, 0.3, 0.4, 0.6, 0.7, 0.8, 0.9], "tickSize": -4, "tickWidth": 1.4, "labels": false, "title": null}}
   }},
  {"data": {"values": [{"t": 0, "e": 0}]}, "mark": {"type": "point", "opacity": 0},
   "encoding": {
    "x": {"field": "t", "type": "quantitative", "axis": {"orient": "bottom", "values": [0.1, 0.3, 0.5, 0.7, 0.9], "tickSize": -5, "tickWidth": 1.4, "labels": false, "title": null}},
    "y": {"field": "e", "type": "quantitative", "axis": {"orient": "right", "values": [0.1, 0.2, 0.3, 0.4, 0.6, 0.7, 0.8, 0.9], "tickSize": -4, "tickWidth": 1.4, "labels": false, "title": null}}
   }},
  {"data": {"values": [{"label": "Mercury", "t": 0.032, "e": 0.86}]},
   "mark": {"type": "text", "align": "left", "baseline": "middle", "font": "DejaVu Sans", "fontSize": 19, "color": "black"},
   "encoding": {"x": {"field": "t", "type": "quantitative", "axis": null}, "y": {"field": "e", "type": "quantitative", "axis": null}, "text": {"field": "label"}}}
 ],
 "resolve": {"axis": {"x": "independent", "y": "independent"}}
},
{
 "width": 571, "height": 136, "data": {"name": "venus"},
 "layer": [
  {"mark": {"type": "line", "color": "#0000ff", "strokeWidth": 1.3},
   "encoding": {
    "x": {"field": "t", "type": "quantitative", "scale": {"domain": [-0.025, 1.025], "nice": false, "zero": false},
          "axis": {"orient": "top", "values": [0, 0.2, 0.4, 0.6, 0.8, 1], "tickSize": -6, "tickWidth": 1.6, "labels": false, "title": null}},
    "y": {"field": "e", "type": "quantitative", "scale": {"domain": [-0.043, 0.97], "nice": false, "zero": false},
          "axis": {"orient": "left", "values": [0, 0.5], "format": "~g", "tickSize": -8, "tickWidth": 1.6, "labelAngle": 270, "labelAlign": "center", "labelBaseline": "middle", "labelPadding": 20, "title": null}}
   }},
  {"data": {"values": [{"t": 0, "e": 0}]}, "mark": {"type": "point", "opacity": 0},
   "encoding": {
    "x": {"field": "t", "type": "quantitative", "axis": {"orient": "bottom", "values": [0, 0.2, 0.4, 0.6, 0.8, 1], "tickSize": -6, "tickWidth": 1.6, "labels": false, "title": null}},
    "y": {"field": "e", "type": "quantitative", "axis": {"orient": "right", "values": [0, 0.5], "tickSize": -8, "tickWidth": 1.6, "labels": false, "title": null}}
   }},
  {"data": {"values": [{"t": 0, "e": 0}]}, "mark": {"type": "point", "opacity": 0},
   "encoding": {
    "x": {"field": "t", "type": "quantitative", "axis": {"orient": "top", "values": [0.1, 0.3, 0.5, 0.7, 0.9], "tickSize": -5, "tickWidth": 1.4, "labels": false, "title": null}},
    "y": {"field": "e", "type": "quantitative", "axis": {"orient": "left", "values": [0.1, 0.2, 0.3, 0.4, 0.6, 0.7, 0.8, 0.9], "tickSize": -4, "tickWidth": 1.4, "labels": false, "title": null}}
   }},
  {"data": {"values": [{"t": 0, "e": 0}]}, "mark": {"type": "point", "opacity": 0},
   "encoding": {
    "x": {"field": "t", "type": "quantitative", "axis": {"orient": "bottom", "values": [0.1, 0.3, 0.5, 0.7, 0.9], "tickSize": -5, "tickWidth": 1.4, "labels": false, "title": null}},
    "y": {"field": "e", "type": "quantitative", "axis": {"orient": "right", "values": [0.1, 0.2, 0.3, 0.4, 0.6, 0.7, 0.8, 0.9], "tickSize": -4, "tickWidth": 1.4, "labels": false, "title": null}}
   }},
  {"data": {"values": [{"label": "Venus", "t": 0.032, "e": 0.78}]},
   "mark": {"type": "text", "align": "left", "baseline": "middle", "font": "DejaVu Sans", "fontSize": 19, "color": "black"},
   "encoding": {"x": {"field": "t", "type": "quantitative", "axis": null}, "y": {"field": "e", "type": "quantitative", "axis": null}, "text": {"field": "label"}}}
 ],
 "resolve": {"axis": {"x": "independent", "y": "independent"}}
},
{
 "width": 571, "height": 136, "data": {"name": "earth"},
 "layer": [
  {"mark": {"type": "line", "color": "#0000ff", "strokeWidth": 1.3},
   "encoding": {
    "x": {"field": "t", "type": "quantitative", "scale": {"domain": [-0.025, 1.025], "nice": false, "zero": false},
          "axis": {"orient": "top", "values": [0, 0.2, 0.4, 0.6, 0.8, 1], "tickSize": -6, "tickWidth": 1.6, "labels": false, "title": null}},
    "y": {"field": "e", "type": "quantitative", "scale": {"domain": [-0.05, 1.05], "nice": false, "zero": false},
          "axis": {"orient": "left", "values": [0, 0.5, 1], "format": "~g", "tickSize": -8, "tickWidth": 1.6, "labelAngle": 270, "labelAlign": "center", "labelBaseline": "middle", "labelPadding": 20, "title": "Eccentricity", "titlePadding": 9}}
   }},
  {"data": {"values": [{"t": 0, "e": 0}]}, "mark": {"type": "point", "opacity": 0},
   "encoding": {
    "x": {"field": "t", "type": "quantitative", "axis": {"orient": "bottom", "values": [0, 0.2, 0.4, 0.6, 0.8, 1], "tickSize": -6, "tickWidth": 1.6, "labels": false, "title": null}},
    "y": {"field": "e", "type": "quantitative", "axis": {"orient": "right", "values": [0, 0.5, 1], "tickSize": -8, "tickWidth": 1.6, "labels": false, "title": null}}
   }},
  {"data": {"values": [{"t": 0, "e": 0}]}, "mark": {"type": "point", "opacity": 0},
   "encoding": {
    "x": {"field": "t", "type": "quantitative", "axis": {"orient": "top", "values": [0.1, 0.3, 0.5, 0.7, 0.9], "tickSize": -5, "tickWidth": 1.4, "labels": false, "title": null}},
    "y": {"field": "e", "type": "quantitative", "axis": {"orient": "left", "values": [0.1, 0.2, 0.3, 0.4, 0.6, 0.7, 0.8, 0.9], "tickSize": -4, "tickWidth": 1.4, "labels": false, "title": null}}
   }},
  {"data": {"values": [{"t": 0, "e": 0}]}, "mark": {"type": "point", "opacity": 0},
   "encoding": {
    "x": {"field": "t", "type": "quantitative", "axis": {"orient": "bottom", "values": [0.1, 0.3, 0.5, 0.7, 0.9], "tickSize": -5, "tickWidth": 1.4, "labels": false, "title": null}},
    "y": {"field": "e", "type": "quantitative", "axis": {"orient": "right", "values": [0.1, 0.2, 0.3, 0.4, 0.6, 0.7, 0.8, 0.9], "tickSize": -4, "tickWidth": 1.4, "labels": false, "title": null}}
   }},
  {"data": {"values": [{"label": "Earth", "t": 0.032, "e": 0.85}]},
   "mark": {"type": "text", "align": "left", "baseline": "middle", "font": "DejaVu Sans", "fontSize": 19, "color": "black"},
   "encoding": {"x": {"field": "t", "type": "quantitative", "axis": null}, "y": {"field": "e", "type": "quantitative", "axis": null}, "text": {"field": "label"}}}
 ],
 "resolve": {"axis": {"x": "independent", "y": "independent"}}
},
{
 "width": 571, "height": 136, "data": {"name": "mars"},
 "layer": [
  {"mark": {"type": "line", "color": "#0000ff", "strokeWidth": 1.3},
   "encoding": {
    "x": {"field": "t", "type": "quantitative", "scale": {"domain": [-0.025, 1.025], "nice": false, "zero": false},
          "axis": {"orient": "top", "values": [0, 0.2, 0.4, 0.6, 0.8, 1], "tickSize": -6, "tickWidth": 1.6, "labels": false, "title": null}},
    "y": {"field": "e", "type": "quantitative", "scale": {"domain": [-0.048, 0.98], "nice": false, "zero": false},
          "axis": {"orient": "left", "values": [0, 0.5], "format": "~g", "tickSize": -8, "tickWidth": 1.6, "labelAngle": 270, "labelAlign": "center", "labelBaseline": "middle", "labelPadding": 20, "title": null}}
   }},
  {"data": {"values": [{"t": 0, "e": 0}]}, "mark": {"type": "point", "opacity": 0},
   "encoding": {
    "x": {"field": "t", "type": "quantitative", "axis": {"orient": "bottom", "values": [0, 0.2, 0.4, 0.6, 0.8, 1], "tickSize": -6, "tickWidth": 1.6, "labels": false, "title": null}},
    "y": {"field": "e", "type": "quantitative", "axis": {"orient": "right", "values": [0, 0.5], "tickSize": -8, "tickWidth": 1.6, "labels": false, "title": null}}
   }},
  {"data": {"values": [{"t": 0, "e": 0}]}, "mark": {"type": "point", "opacity": 0},
   "encoding": {
    "x": {"field": "t", "type": "quantitative", "axis": {"orient": "top", "values": [0.1, 0.3, 0.5, 0.7, 0.9], "tickSize": -5, "tickWidth": 1.4, "labels": false, "title": null}},
    "y": {"field": "e", "type": "quantitative", "axis": {"orient": "left", "values": [0.1, 0.2, 0.3, 0.4, 0.6, 0.7, 0.8, 0.9], "tickSize": -4, "tickWidth": 1.4, "labels": false, "title": null}}
   }},
  {"data": {"values": [{"t": 0, "e": 0}]}, "mark": {"type": "point", "opacity": 0},
   "encoding": {
    "x": {"field": "t", "type": "quantitative", "axis": {"orient": "bottom", "values": [0.1, 0.3, 0.5, 0.7, 0.9], "tickSize": -5, "tickWidth": 1.4, "labels": false, "title": null}},
    "y": {"field": "e", "type": "quantitative", "axis": {"orient": "right", "values": [0.1, 0.2, 0.3, 0.4, 0.6, 0.7, 0.8, 0.9], "tickSize": -4, "tickWidth": 1.4, "labels": false, "title": null}}
   }},
  {"data": {"values": [{"label": "Mars", "t": 0.032, "e": 0.8}]},
   "mark": {"type": "text", "align": "left", "baseline": "middle", "font": "DejaVu Sans", "fontSize": 19, "color": "black"},
   "encoding": {"x": {"field": "t", "type": "quantitative", "axis": null}, "y": {"field": "e", "type": "quantitative", "axis": null}, "text": {"field": "label"}}}
 ],
 "resolve": {"axis": {"x": "independent", "y": "independent"}}
},
{
 "width": 571, "height": 136, "data": {"name": "superearth"},
 "layer": [
  {"mark": {"type": "line", "color": "#0000ff", "strokeWidth": 1.3},
   "encoding": {
    "x": {"field": "t", "type": "quantitative", "scale": {"domain": [-0.025, 1.025], "nice": false, "zero": false},
          "axis": {"orient": "bottom", "values": [0, 0.2, 0.4, 0.6, 0.8, 1], "format": "~g", "tickSize": -8, "tickWidth": 1.6, "labelPadding": 9, "title": "Time (10⁷ years)", "titleFontSize": 20, "titlePadding": 12}},
    "y": {"field": "e", "type": "quantitative", "scale": {"domain": [-0.016, 0.355], "nice": false, "zero": false},
          "axis": {"orient": "left", "values": [0, 0.1, 0.2, 0.3], "format": "~g", "tickSize": -8, "tickWidth": 1.6, "labelAngle": 270, "labelAlign": "center", "labelBaseline": "middle", "labelPadding": 20, "title": null}}
   }},
  {"data": {"values": [{"t": 0, "e": 0}]}, "mark": {"type": "point", "opacity": 0},
   "encoding": {
    "x": {"field": "t", "type": "quantitative", "axis": {"orient": "top", "values": [0, 0.2, 0.4, 0.6, 0.8, 1], "tickSize": -6, "tickWidth": 1.6, "labels": false, "title": null}},
    "y": {"field": "e", "type": "quantitative", "axis": {"orient": "right", "values": [0, 0.1, 0.2, 0.3], "tickSize": -8, "tickWidth": 1.6, "labels": false, "title": null}}
   }},
  {"data": {"values": [{"t": 0, "e": 0}]}, "mark": {"type": "point", "opacity": 0},
   "encoding": {
    "x": {"field": "t", "type": "quantitative", "axis": {"orient": "top", "values": [0.1, 0.3, 0.5, 0.7, 0.9], "tickSize": -5, "tickWidth": 1.4, "labels": false, "title": null}},
    "y": {"field": "e", "type": "quantitative", "axis": {"orient": "left", "values": [0.02, 0.04, 0.06, 0.08, 0.12, 0.14, 0.16, 0.18, 0.22, 0.24, 0.26, 0.28, 0.32, 0.34], "tickSize": -4, "tickWidth": 1.4, "labels": false, "title": null}}
   }},
  {"data": {"values": [{"t": 0, "e": 0}]}, "mark": {"type": "point", "opacity": 0},
   "encoding": {
    "x": {"field": "t", "type": "quantitative", "axis": {"orient": "bottom", "values": [0.1, 0.3, 0.5, 0.7, 0.9], "tickSize": -5, "tickWidth": 1.4, "labels": false, "title": null}},
    "y": {"field": "e", "type": "quantitative", "axis": {"orient": "right", "values": [0.02, 0.04, 0.06, 0.08, 0.12, 0.14, 0.16, 0.18, 0.22, 0.24, 0.26, 0.28, 0.32, 0.34], "tickSize": -4, "tickWidth": 1.4, "labels": false, "title": null}}
   }},
  {"data": {"values": [{"label": "Super−Earth", "t": 0.032, "e": 0.292}]},
   "mark": {"type": "text", "align": "left", "baseline": "middle", "font": "DejaVu Sans", "fontSize": 19, "color": "black"},
   "encoding": {"x": {"field": "t", "type": "quantitative", "axis": null}, "y": {"field": "e", "type": "quantitative", "axis": null}, "text": {"field": "label"}}}
 ],
 "resolve": {"axis": {"x": "independent", "y": "independent"}}
}
]
}
